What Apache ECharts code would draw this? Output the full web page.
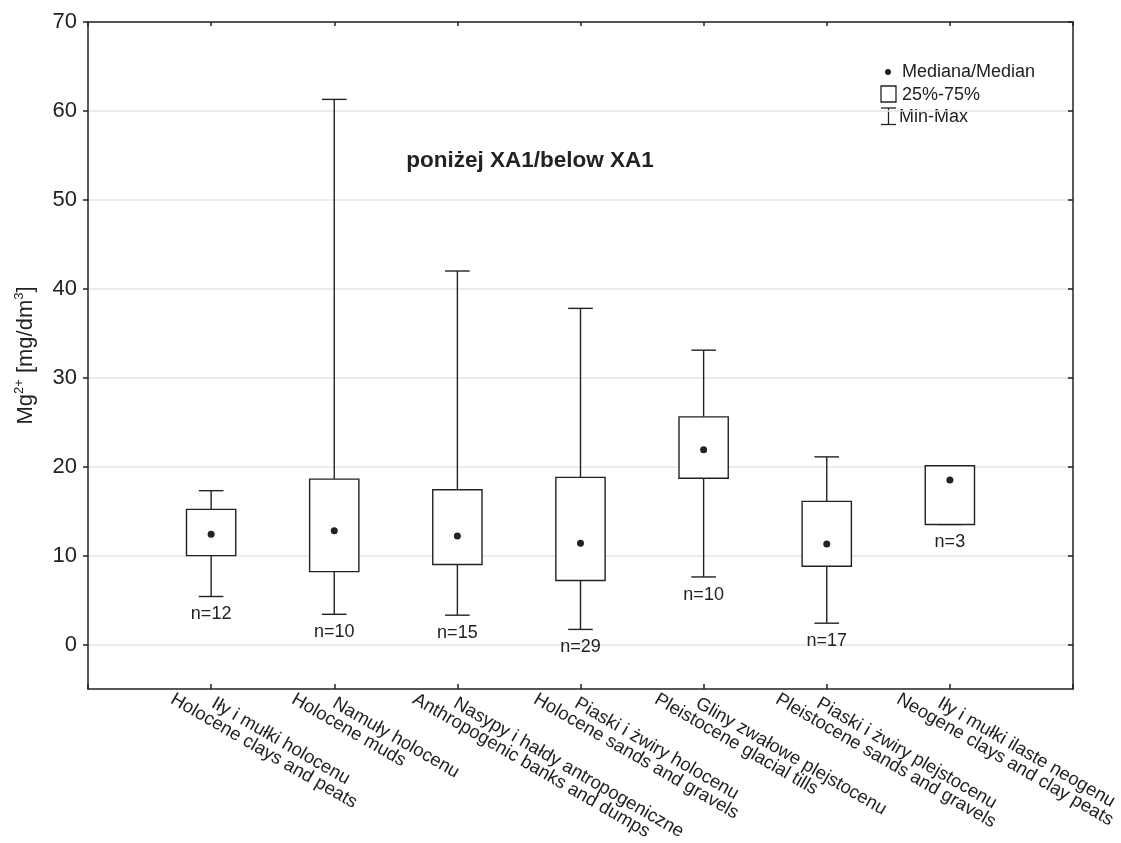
<!DOCTYPE html>
<html>
<head>
<meta charset="utf-8">
<script src="https://cdn.jsdelivr.net/npm/echarts@6/dist/echarts.min.js"></script>
<style>
  html, body { margin: 0; padding: 0; background: #fff; }
  #chart { width: 1121px; height: 843px; }
</style>
</head>
<body>
<div id="chart"></div>
<script>
// ---- data ----
const categoriesPL = ['Iły i mułki holocenu', 'Namuły holocenu', 'Nasypy i hałdy antropogeniczne',
  'Piaski i żwiry holocenu', 'Gliny zwałowe plejstocenu', 'Piaski i żwiry plejstocenu',
  'Iły i mułki ilaste neogenu'];
const categoriesEN = ['Holocene clays and peats', 'Holocene muds', 'Anthropogenic banks and dumps',
  'Holocene sands and gravels', 'Pleistocene glacial tills', 'Pleistocene sands and gravels',
  'Neogene clays and clay peats'];
const minValues    = [5.4, 3.4, 3.3, 1.7, 7.6, 2.4, 13.5];
const q1Values     = [10.0, 8.2, 9.0, 7.2, 18.7, 8.8, 13.5];
const medianValues = [12.4, 12.8, 12.2, 11.4, 21.9, 11.3, 18.5];
const q3Values     = [15.2, 18.6, 17.4, 18.8, 25.6, 16.1, 20.1];
const maxValues    = [17.3, 61.3, 42.0, 37.8, 33.1, 21.1, 20.1];
const nValues      = [12, 10, 15, 29, 10, 17, 3];
const yTickValues  = [0, 10, 20, 30, 40, 50, 60, 70];
const titleText = 'poniżej XA1/below XA1';
const legendTexts = ['Mediana/Median', '25%-75%', 'Min-Max'];

// ---- build ----
const FONT = '"Liberation Sans", Arial, Helvetica, sans-serif';
const INK = '#222';
const boxData = categoriesPL.map((c, i) => [i + 1, minValues[i], q1Values[i], medianValues[i], q3Values[i], maxValues[i], nValues[i]]);

const chart = echarts.init(document.getElementById('chart'), null, { renderer: 'canvas' });

function renderBox(params, api) {
  const x = api.value(0);
  const pMin = api.coord([x, api.value(1)]);
  const pQ1 = api.coord([x, api.value(2)]);
  const pMed = api.coord([x, api.value(3)]);
  const pQ3 = api.coord([x, api.value(4)]);
  const pMax = api.coord([x, api.value(5)]);
  const unit = api.size([1, 0])[0];
  const bw = unit * 0.4, cw = unit * 0.2;
  const cx = pMed[0];
  const ls = { stroke: INK, lineWidth: 1.4, fill: null };
  return {
    type: 'group',
    children: [
      { type: 'line', shape: { x1: cx, y1: pQ1[1], x2: cx, y2: pMin[1] }, style: ls },
      { type: 'line', shape: { x1: cx, y1: pQ3[1], x2: cx, y2: pMax[1] }, style: ls },
      { type: 'line', shape: { x1: cx - cw / 2, y1: pMin[1], x2: cx + cw / 2, y2: pMin[1] }, style: ls },
      { type: 'line', shape: { x1: cx - cw / 2, y1: pMax[1], x2: cx + cw / 2, y2: pMax[1] }, style: ls },
      { type: 'rect', shape: { x: cx - bw / 2, y: pQ3[1], width: bw, height: pQ1[1] - pQ3[1] },
        style: { fill: '#fff', stroke: INK, lineWidth: 1.4 } },
      { type: 'circle', shape: { cx: cx, cy: pMed[1], r: 3.5 }, style: { fill: INK } },
      { type: 'text', x: cx, y: pMin[1] + 18,
        style: { text: 'n=' + api.value(6), fill: INK, fontSize: 18, fontFamily: FONT,
                 align: 'center', verticalAlign: 'middle', textAlign: 'center', textVerticalAlign: 'middle' } }
    ]
  };
}

const yName = '{a|Mg}{s|2+}{a| [mg/dm}{s|3}{a|]}';

const option = {
  animation: false,
  backgroundColor: '#fff',
  textStyle: { fontFamily: FONT, color: INK },
  grid: [
    { left: 88, right: 48, top: 22, bottom: 154 },
    { left: 92, right: 61, top: 22, bottom: 154 },
    { left: 51, right: 102, top: 22, bottom: 154 }
  ],
  xAxis: [
    { type: 'value', gridIndex: 0, position: 'bottom', min: 0, max: 8, interval: 1,
      axisLine: { show: true, onZero: false, lineStyle: { color: INK, width: 1.5 } },
      axisTick: { show: true, inside: true, length: 5, lineStyle: { color: INK, width: 1.5 } },
      axisLabel: { show: false }, splitLine: { show: false } },
    { type: 'value', gridIndex: 0, position: 'top', min: 0, max: 8, interval: 1,
      axisLine: { show: true, onZero: false, lineStyle: { color: INK, width: 1.5 } },
      axisTick: { show: true, inside: true, length: 4, lineStyle: { color: INK, width: 1.5 } },
      axisLabel: { show: false }, splitLine: { show: false } },
    { type: 'value', gridIndex: 1, position: 'bottom', min: 0, max: 8, interval: 1,
      axisLine: { show: false }, axisTick: { show: false }, splitLine: { show: false },
      axisLabel: { show: true, rotate: -30, margin: 21.5, fontSize: 18.5, color: INK, fontFamily: FONT,
        formatter: v => (v >= 1 && v <= categoriesPL.length) ? categoriesPL[Math.round(v) - 1] : '' } },
    { type: 'value', gridIndex: 2, position: 'bottom', min: 0, max: 8, interval: 1,
      axisLine: { show: false }, axisTick: { show: false }, splitLine: { show: false },
      axisLabel: { show: true, rotate: -30, margin: 26, fontSize: 18.5, color: INK, fontFamily: FONT,
        formatter: v => (v >= 1 && v <= categoriesEN.length) ? categoriesEN[Math.round(v) - 1] : '' } }
  ],
  yAxis: [
    { type: 'value', gridIndex: 0, position: 'left', min: -5, max: 70, splitNumber: 8, minInterval: 10, maxInterval: 10,
      axisLine: { show: true, onZero: false, lineStyle: { color: INK, width: 1.5 } },
      axisTick: { show: true, inside: false, length: 5, customValues: yTickValues, lineStyle: { color: INK, width: 1.5 } },
      axisLabel: { show: true, fontSize: 22, color: INK, margin: 11, fontFamily: FONT, customValues: yTickValues,
        formatter: v => (v < 0 ? '' : String(v)) },
      splitLine: { show: true, lineStyle: { color: '#e4e4e4', width: 1.5 } },
      name: yName, nameLocation: 'middle', nameGap: 49, nameRotate: 90,
      nameTextStyle: { color: INK, fontFamily: FONT,
        rich: { a: { fontSize: 22, lineHeight: 26, color: INK, fontFamily: FONT },
                s: { fontSize: 13, lineHeight: 26, verticalAlign: 'top', color: INK, fontFamily: FONT } } } },
    { type: 'value', gridIndex: 0, position: 'right', min: -5, max: 70, splitNumber: 8, minInterval: 10, maxInterval: 10,
      axisLine: { show: true, onZero: false, lineStyle: { color: INK, width: 1.5 } },
      axisTick: { show: true, inside: true, length: 5, customValues: yTickValues, lineStyle: { color: INK, width: 1.5 } },
      axisLabel: { show: false }, splitLine: { show: false } },
    { type: 'value', gridIndex: 1, show: false, min: 0, max: 1 },
    { type: 'value', gridIndex: 2, show: false, min: 0, max: 1 }
  ],
  series: [
    { type: 'custom', name: 'box', xAxisIndex: 0, yAxisIndex: 0, clip: false,
      encode: { x: 0, y: [1, 2, 3, 4, 5] },
      renderItem: renderBox, data: boxData, z: 5 }
  ],
  graphic: [
    { type: 'text', x: 530, y: 161,
      style: { text: titleText, fill: INK, fontSize: 22.5, fontWeight: 'bold', fontFamily: FONT,
               align: 'center', verticalAlign: 'middle', textAlign: 'center', textVerticalAlign: 'middle' } },
    { type: 'circle', shape: { cx: 888, cy: 72, r: 3 }, style: { fill: INK } },
    { type: 'text', x: 902, y: 72,
      style: { text: legendTexts[0], fill: INK, fontSize: 18, fontFamily: FONT, align: 'left', verticalAlign: 'middle', textAlign: 'left', textVerticalAlign: 'middle' } },
    { type: 'rect', shape: { x: 881, y: 86, width: 15, height: 16 }, style: { fill: '#fff', stroke: INK, lineWidth: 1.3 } },
    { type: 'text', x: 902, y: 95,
      style: { text: legendTexts[1], fill: INK, fontSize: 18, fontFamily: FONT, align: 'left', verticalAlign: 'middle', textAlign: 'left', textVerticalAlign: 'middle' } },
    { type: 'line', shape: { x1: 888.5, y1: 108, x2: 888.5, y2: 124.5 }, style: { stroke: INK, lineWidth: 1.3 } },
    { type: 'line', shape: { x1: 881, y1: 108, x2: 896, y2: 108 }, style: { stroke: INK, lineWidth: 1.3 } },
    { type: 'line', shape: { x1: 881, y1: 124.5, x2: 896, y2: 124.5 }, style: { stroke: INK, lineWidth: 1.3 } },
    { type: 'text', x: 899, y: 117,
      style: { text: legendTexts[2], fill: INK, fontSize: 18, fontFamily: FONT, align: 'left', verticalAlign: 'middle', textAlign: 'left', textVerticalAlign: 'middle' } }
  ]
};
chart.setOption(option);
</script>
</body>
</html>
